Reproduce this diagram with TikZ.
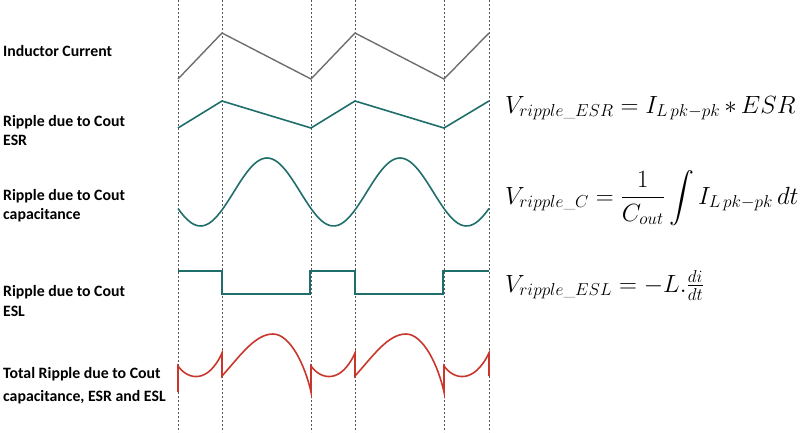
\documentclass[tikz,border=0pt]{standalone}
\usepackage{amsmath}
\usepackage{fontspec}
\usepackage{tikz}
\usetikzlibrary{positioning}
\newfontfamily\labelfont{Carlito}
\definecolor{curgray}{HTML}{6E6E6E}
\definecolor{esrteal}{HTML}{1F6E6C}
\definecolor{totred}{HTML}{C9362B}
\definecolor{guidegray}{HTML}{555555}

\begin{document}
\begin{tikzpicture}[x=1pt,y=-1pt]
\tikzstyle{lbl}=[anchor=west,align=left,inner sep=0pt,font=\labelfont\bfseries\fontsize{15.8}{19.5}\selectfont]
\tikzstyle{eqn}=[anchor=base west,inner sep=0pt,font=\fontsize{24}{28}\selectfont]
\tikzstyle{guide}=[guidegray,line width=0.8pt,dash pattern=on 2pt off 2pt]
\tikzstyle{wave}=[line width=1.6pt,line join=miter]
\useasboundingbox (0,0) rectangle (800,432);
% switching instants
\foreach \x in {178,222,311,355,444,489}
    \draw[guide] (\x,0) -- (\x,432);
% labels
\node[lbl] (lblIL) at (3,51) {Inductor Current};
\node[lbl] (lblESR) at (3,130.5) {Ripple due to Cout\\ESR};
\node[lbl] (lblCap) at (3,205.5) {Ripple due to Cout\\capacitance};
\node[lbl] (lblESL) at (3,301) {Ripple due to Cout\\ESL};
\node[lbl] (lblTot) at (3,385.5) {Total Ripple due to Cout\\[3pt]capacitance, ESR and ESL};
% waveforms
\draw[wave,curgray,line width=1.4pt] (178,79) -- (222,33) -- (311,79) -- (355,33) -- (444,79) -- (489,33);
\draw[wave,esrteal] (178,128) -- (222,101) -- (311,128) -- (355,101) -- (444,128) -- (489,101);
\draw[wave,esrteal,domain=178:489,samples=120,smooth] plot (\x,{192-34*cos(2.7068*(\x-267))});
\draw[wave,esrteal] (178,271) -- (222,271) -- (222,294) -- (310,294) -- (310,271) -- (355,271)
    -- (355,294) -- (443,294) -- (443,271) -- (489,271);
\draw[wave,totred] (178,392) -- (178,366)
    .. controls (188,380) and (208,384) .. (222,353) -- (222,376)
    .. controls (240,356) and (255,334) .. (273,334)
    .. controls (290,334) and (305,365) .. (311,392) -- (311,366)
    .. controls (321,380) and (341,384) .. (355,353) -- (355,376)
    .. controls (373,356) and (388,334) .. (406,334)
    .. controls (423,334) and (438,365) .. (444,392) -- (444,366)
    .. controls (454,380) and (474,384) .. (489,353) -- (489,376);
% equations
\node[eqn] (eqESR) at (505,113) {$V_{ripple\_ESR}=I_{L\,pk-pk}\mkern3mu{*}\mkern3mu ESR$};
\node[eqn] (eqCap) at (505,204) {$\displaystyle V_{ripple\_C}=\frac{1}{C_{out}}\int I_{L\,pk-pk}\,dt$};
\node[eqn] (eqESL) at (505,292) {$V_{ripple\_ESL}=-L.\tfrac{di}{dt}$};
\end{tikzpicture}
\end{document}
